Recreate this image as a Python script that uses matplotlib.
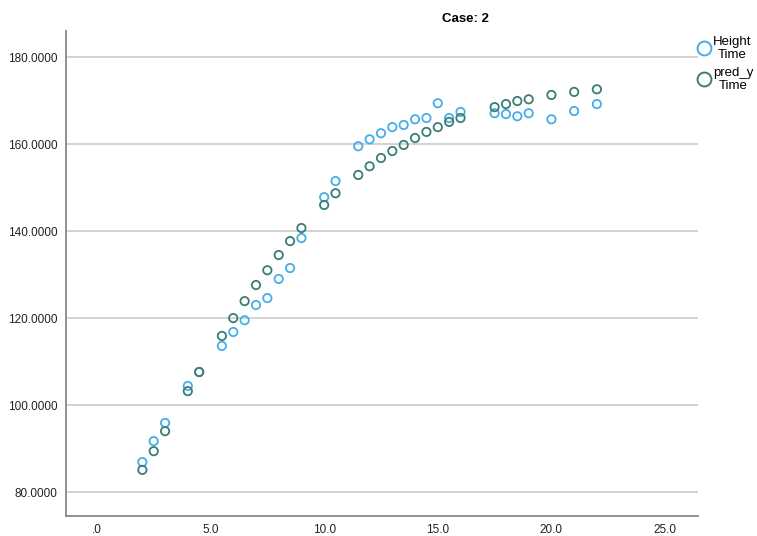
import matplotlib
matplotlib.use('Agg')
import matplotlib.pyplot as plt
from matplotlib.lines import Line2D

plt.rcParams['font.family'] = ['Liberation Sans', 'DejaVu Sans']

# ages (x) and measured / predicted heights
time = [2, 2.5, 3, 4, 4.5, 5.5, 6, 6.5, 7, 7.5, 8, 8.5, 9, 10, 10.5,
        11.5, 12, 12.5, 13, 13.5, 14, 14.5, 15, 15.5, 16,
        17.5, 18, 18.5, 19, 20, 21, 22]
height = [86.9, 91.7, 95.9, 104.4, 107.6, 113.6, 116.8, 119.5, 123.0, 124.6,
          129.0, 131.5, 138.4, 147.8, 151.5,
          159.5, 161.1, 162.5, 163.9, 164.4, 165.7, 166.0, 169.4, 166.0, 167.4,
          167.1, 166.9, 166.4, 167.1, 165.7, 167.6, 169.2]
pred_y = [85.1, 89.4, 94.0, 103.2, 107.6, 115.9, 120.0, 123.9, 127.6, 131.0,
          134.5, 137.7, 140.7, 146.0, 148.7,
          152.9, 154.9, 156.8, 158.4, 159.8, 161.4, 162.8, 163.9, 165.1, 166.0,
          168.5, 169.2, 169.9, 170.3, 171.3, 172.0, 172.6]

xticks = [0, 5, 10, 15, 20, 25]
xticklabels = ['.0', '5.0', '10.0', '15.0', '20.0', '25.0']
yticks = [80, 100, 120, 140, 160, 180]

blue = '#45aeea'
green = '#3a7d77'

fig = plt.figure(figsize=(7.57, 5.36), dpi=100)
ax = fig.add_axes([66/757, 1 - 516/536, (698 - 66)/757, (516 - 31)/536])

ax.scatter(time, height, s=36, facecolors='none', edgecolors=blue, linewidths=1.3, zorder=3)
ax.scatter(time, pred_y, s=36, facecolors='none', edgecolors=green, linewidths=1.3, zorder=3)

ax.set_xlim(-1.36, 26.45)
ax.set_ylim(74.5, 186.0)
ax.set_xticks(xticks)
ax.set_xticklabels(xticklabels)
ax.set_yticks(yticks)
ax.set_yticklabels([f'{v:.4f}' for v in yticks])
ax.tick_params(length=0, labelsize=8.5, colors='#222222')
ax.tick_params(axis='x', pad=6)
ax.tick_params(axis='y', pad=6)
ax.grid(axis='y', color='#d0d0d0', linewidth=1.3)
ax.set_axisbelow(True)
for s in ['top', 'right']:
    ax.spines[s].set_visible(False)
for s in ['left', 'bottom']:
    ax.spines[s].set_color('#888888')
    ax.spines[s].set_linewidth(1.3)

fig.text(465/757, 1 - 19/536, 'Case: 2', ha='center', va='center',
         fontsize=9.5, fontweight='bold')

handles = [Line2D([], [], marker='o', linestyle='none', markersize=10,
                  markerfacecolor='none', markeredgecolor=c, markeredgewidth=1.4)
           for c in (blue, green)]
leg = fig.legend(handles, ['Height\nTime', 'pred_y\nTime'], loc='upper left',
                 bbox_to_anchor=(698/757, 1 - 36/536), frameon=False,
                 handlelength=0.9, handletextpad=0.25, labelspacing=0.45,
                 fontsize=9.5, borderaxespad=0, borderpad=0)
for t in leg.get_texts():
    t.set_multialignment('center')
    t.set_linespacing(1.1)

fig.savefig('out.png', dpi=100)
